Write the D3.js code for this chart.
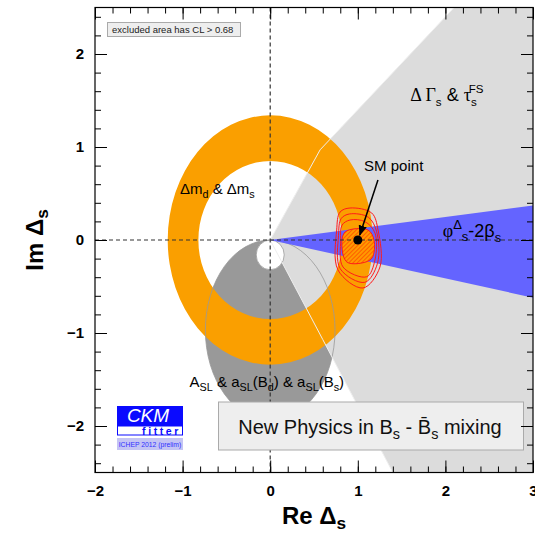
<!DOCTYPE html>
<html><head><meta charset="utf-8">
<script src="https://cdn.jsdelivr.net/npm/d3@7"></script>
<style>
html,body{margin:0;padding:0;background:#fff;}
svg{display:block;font-family:"Liberation Sans",Arial,sans-serif;}
</style></head><body>
<svg id="c" width="535" height="537"></svg>
<script>
// ---- data ----
const xDomain = [-2, 3];
const yDomain = [-2.5, 2.5];
const xTicks = [-2, -1, 0, 1, 2, 3];
const yTicks = [-2, -1, 0, 1, 2];
// Δm ring (ellipse radii in data units)
const ringOuter = [1.17, 1.34];
const ringInner = [0.82, 0.85];
// ΔΓs & τs^FS allowed region boundary (data units)
const gammaUpper = [[0, 0], [0.57, 0.97], [1.2, 1.6], [2.1, 2.5]];
const gammaLower = [[0, 0], [0.6, -1.07], [1.4, -2.5]];
// A_SL region (ellipse centre, radii) and hole
const aslCentre = [0, -0.97];
const aslRadii = [0.74, 0.97];
const holeCentre = [0, -0.16];
const holeRadius = 0.16;
// φΔs - 2βs wedge
const phiWedge = [[0, 0], [3, 0.37], [3, -0.62]];
// SM fit contours
const contourInner = [[0.855, 0.086], [1.116, 0.108], [1.185, 0], [1.162, -0.194], [1.047, -0.247], [0.876, -0.237], [0.82, -0.086]];
const contourMid = [[0.911, 0.215], [1.082, 0.197], [1.196, 0.075], [1.196, -0.215], [1.102, -0.395], [0.831, -0.29], [0.805, 0], [0.82, 0.16]];
const contourMid2 = [[0.905, 0.28], [1.12, 0.245], [1.215, 0.09], [1.225, -0.25], [1.08, -0.455], [0.80, -0.31], [0.78, 0.05], [0.81, 0.23]];
const contourOuter = [[0.911, 0.344], [1.159, 0.29], [1.231, 0.108], [1.253, -0.29], [1.059, -0.516], [0.774, -0.323], [0.759, 0.108], [0.797, 0.3]];
const smPoint = [1, 0];
const arrowStart = [1.23, 0.645];

// ---- setup ----
const svg = d3.select("#c");
const L = 95, R = 533, T = 7.5, B = 472.5;
const x = d3.scaleLinear().domain(xDomain).range([L, R]);
const y = d3.scaleLinear().domain(yDomain).range([B, T]);

const defs = svg.append("defs");
defs.append("clipPath").attr("id", "plot").append("rect")
  .attr("x", L).attr("y", T).attr("width", R - L).attr("height", B - T);
const hatch = defs.append("pattern").attr("id", "hatch").attr("patternUnits", "userSpaceOnUse")
  .attr("width", 3).attr("height", 3).attr("patternTransform", "rotate(45)");
hatch.append("rect").attr("width", 3).attr("height", 3).attr("fill", "#ff9a00");
hatch.append("line").attr("x1", 0).attr("y1", 0).attr("x2", 0).attr("y2", 3).attr("stroke", "#ff2a00").attr("stroke-width", 1.1);
defs.append("marker").attr("id", "arr").attr("viewBox", "0 0 10 10").attr("refX", 9).attr("refY", 5)
  .attr("markerWidth", 7).attr("markerHeight", 7).attr("orient", "auto")
  .append("path").attr("d", "M0,1 L10,5 L0,9 Z").attr("fill", "#000");

const g = svg.append("g").attr("clip-path", "url(#plot)");
const line = d3.line().x(d => x(d[0])).y(d => y(d[1]));
const closed = d3.line().x(d => x(d[0])).y(d => y(d[1])).curve(d3.curveCatmullRomClosed.alpha(0.5));

function ellPath(c, rx, ry) {
  const cx = x(c[0]), cy = y(c[1]);
  const px = x(c[0] + rx) - cx, py = cy - y(c[1] + ry);
  return `M${cx - px},${cy} A${px},${py} 0 1 0 ${cx + px},${cy} A${px},${py} 0 1 0 ${cx - px},${cy} Z`;
}

// A_SL dark region
g.append("path").attr("d", ellPath(aslCentre, aslRadii[0], aslRadii[1])).attr("fill", "#999999");

// ΔΓs light wedge
const wedgePts = gammaUpper.concat([[xDomain[1], yDomain[1]], [xDomain[1], yDomain[0]]]).concat(gammaLower.slice().reverse());
g.append("path").attr("d", line(wedgePts) + "Z").attr("fill", "#dcdcdc");

// hole
g.append("path").attr("d", ellPath(holeCentre, holeRadius, holeRadius)).attr("fill", "#fff").attr("stroke", "#999").attr("stroke-width", 0.8);

// Δm ring
g.append("path")
  .attr("d", ellPath([0, 0], ringOuter[0], ringOuter[1]) + ellPath([0, 0], ringInner[0], ringInner[1]))
  .attr("fill", "#fa9f00").attr("fill-rule", "evenodd");

// thin outlines drawn over ring
g.append("path").attr("d", ellPath(aslCentre, aslRadii[0], aslRadii[1])).attr("fill", "none").attr("stroke", "#999").attr("stroke-width", 0.8);
g.append("path").attr("d", line(gammaUpper)).attr("fill", "none").attr("stroke", "#eeeeee").attr("stroke-width", 1);
g.append("path").attr("d", line(gammaLower)).attr("fill", "none").attr("stroke", "#eeeeee").attr("stroke-width", 1);

// φ wedge
g.append("path").attr("d", line(phiWedge) + "Z").attr("fill", "#6464ff");

// contours
[contourOuter, contourMid2, contourMid].forEach(c =>
  g.append("path").attr("d", closed(c)).attr("fill", "none").attr("stroke", "#ff1a1a").attr("stroke-width", 1));
g.append("path").attr("d", closed(contourInner)).attr("fill", "url(#hatch)").attr("stroke", "#ff1a1a").attr("stroke-width", 1);

// dashed axes
g.append("line").attr("x1", x(0)).attr("x2", x(0)).attr("y1", T).attr("y2", B).attr("stroke", "#333").attr("stroke-dasharray", "4,3").attr("stroke-width", 1.2);
g.append("line").attr("x1", L).attr("x2", R).attr("y1", y(0)).attr("y2", y(0)).attr("stroke", "#333").attr("stroke-dasharray", "4,3").attr("stroke-width", 1.2);

// SM point
g.append("circle").attr("cx", x(smPoint[0])).attr("cy", y(smPoint[1])).attr("r", 4.5).attr("fill", "#000");
g.append("line").attr("x1", x(arrowStart[0])).attr("y1", y(arrowStart[1]))
  .attr("x2", x(smPoint[0]) + 2).attr("y2", y(smPoint[1]) - 5)
  .attr("stroke", "#000").attr("stroke-width", 1.5).attr("marker-end", "url(#arr)");

// ---- labels inside plot ----
function richText(sel, parts, size) {
  parts.forEach(p => {
    const t = sel.append("tspan").text(p.t);
    if (p.f) t.attr("font-family", p.f);
    if (p.s) t.attr("font-size", size * 0.72);
    if (p.dy) t.attr("dy", p.dy);
    if (p.dx) t.attr("dx", p.dx);
  });
}
const serif = "Liberation Serif, Times New Roman, serif";
let t;
t = svg.append("text").attr("x", x(1.6)).attr("y", y(1.49)).attr("font-size", 18).attr("fill", "#000");
richText(t, [{t: "Δ Γ", f: serif}, {t: "s", s: 1, dy: 5}, {t: " & ", dy: -5}, {t: "τ", f: serif}, {t: "s", s: 1, dy: 5}, {t: "FS", s: 1, dy: -13, dx: -8}], 16);

t = svg.append("text").attr("x", x(-1.03)).attr("y", y(0.5)).attr("font-size", 15);
richText(t, [{t: "Δm"}, {t: "d", s: 1, dy: 4}, {t: " & Δm", dy: -4}, {t: "s", s: 1, dy: 4}], 15);

t = svg.append("text").attr("x", x(1.97)).attr("y", y(0.03)).attr("font-size", 18);
richText(t, [{t: "φ", f: serif}, {t: "Δ", s: 1, dy: -8}, {t: "s", s: 1, dy: 12}, {t: "-2β", dy: -4}, {t: "s", s: 1, dy: 5}], 18);

t = svg.append("text").attr("x", x(-0.92)).attr("y", y(-1.58)).attr("font-size", 15);
richText(t, [{t: "A"}, {t: "SL", s: 1, dy: 4}, {t: " & a", dy: -4}, {t: "SL", s: 1, dy: 4}, {t: "(B", dy: -4}, {t: "d", s: 1, dy: 4}, {t: ") & a", dy: -4}, {t: "SL", s: 1, dy: 4}, {t: "(B", dy: -4}, {t: "s", s: 1, dy: 4}, {t: ")", dy: -4}], 15);

svg.append("text").attr("x", x(1.41)).attr("y", y(0.74)).attr("text-anchor", "middle").attr("font-size", 15).text("SM point");

// legend box
svg.append("rect").attr("x", 107.5).attr("y", 22.5).attr("width", 133).attr("height", 14).attr("fill", "#eeeeee").attr("stroke", "#aaa");
svg.append("text").attr("x", 112).attr("y", 33).attr("font-size", 9.5).attr("fill", "#222").text("excluded area has CL > 0.68");

// CKM fitter logo
svg.append("rect").attr("x", 117).attr("y", 406).attr("width", 66).attr("height", 20).attr("fill", "#0a0aff");
svg.append("text").attr("x", 148).attr("y", 422).attr("text-anchor", "middle").attr("font-size", 19).attr("font-style", "italic").attr("fill", "#fff").text("CKM");
svg.append("rect").attr("x", 117.5).attr("y", 426).attr("width", 65).attr("height", 9).attr("fill", "#fff").attr("stroke", "#0a0aff");
svg.append("text").attr("x", 181).attr("y", 434.5).attr("text-anchor", "end").attr("font-size", 10.5).attr("font-weight", "bold").attr("letter-spacing", 2.6).attr("fill", "#0a0aff").text("fitter");
svg.append("rect").attr("x", 117).attr("y", 438).attr("width", 66).attr("height", 12).attr("fill", "#c4c4f4");
svg.append("text").attr("x", 150).attr("y", 447).attr("text-anchor", "middle").attr("font-size", 6.8).attr("fill", "#3030ff").text("ICHEP 2012 (prelim)");

// New Physics box
svg.append("rect").attr("x", 218.5).attr("y", 402).attr("width", 305).attr("height", 48).attr("fill", "#eeeeee").attr("stroke", "#aaa");
t = svg.append("text").attr("x", 370).attr("y", 434).attr("text-anchor", "middle").attr("font-size", 20).attr("fill", "#111");
richText(t, [{t: "New Physics in B"}, {t: "s", s: 1, dy: 5}, {t: " - B\u0304", dy: -5}, {t: "s", s: 1, dy: 5}, {t: " mixing", dy: -5}], 20);

// ---- axes ----
function minor(dom) { const a = []; for (let v = Math.ceil(dom[0] * 5); v <= Math.floor(dom[1] * 5); v++) a.push(v / 5); return a; }
function ticks(axisFn, scale, vals, size, tf, pad, lbl) {
  const a = axisFn(scale).tickValues(vals).tickSize(size).tickPadding(pad);
  a.tickFormat(lbl ? d3.format("d") : () => "");
  const gg = svg.append("g").attr("transform", tf).call(a);
  gg.select(".domain").remove();
  gg.selectAll("line").attr("stroke", "#000").attr("stroke-width", 1);
  gg.selectAll("text").attr("font-size", 15).attr("font-weight", "bold").attr("fill", "#000").attr("font-family", "Liberation Sans, Arial, sans-serif");
  return gg;
}
const xMinor = minor(xDomain), yMinor = minor(yDomain);
ticks(d3.axisBottom, x, xMinor, -6, `translate(0,${B})`, 0, false);
ticks(d3.axisBottom, x, xTicks, -12, `translate(0,${B})`, 12, true).selectAll("text").attr("dy", "0.75em");
ticks(d3.axisTop, x, xMinor, -6, `translate(0,${T})`, 0, false);
ticks(d3.axisTop, x, xTicks, -12, `translate(0,${T})`, 0, false);
ticks(d3.axisLeft, y, yMinor, -6, `translate(${L},0)`, 0, false);
ticks(d3.axisLeft, y, yTicks, -12, `translate(${L},0)`, 11, true);
ticks(d3.axisRight, y, yMinor, -6, `translate(${R},0)`, 0, false);
ticks(d3.axisRight, y, yTicks, -12, `translate(${R},0)`, 0, false);

svg.append("rect").attr("x", L).attr("y", T).attr("width", R - L).attr("height", B - T).attr("fill", "none").attr("stroke", "#000").attr("stroke-width", 1.2);

// axis titles
t = svg.append("text").attr("x", 314).attr("y", 524).attr("text-anchor", "middle").attr("font-size", 24).attr("font-weight", "bold");
richText(t, [{t: "Re Δ"}, {t: "s", s: 1, dy: 5}], 24);
t = svg.append("text").attr("transform", "translate(43,240) rotate(-90)").attr("text-anchor", "middle").attr("font-size", 24).attr("font-weight", "bold");
richText(t, [{t: "Im Δ"}, {t: "s", s: 1, dy: 5}], 24);
</script></body></html>
